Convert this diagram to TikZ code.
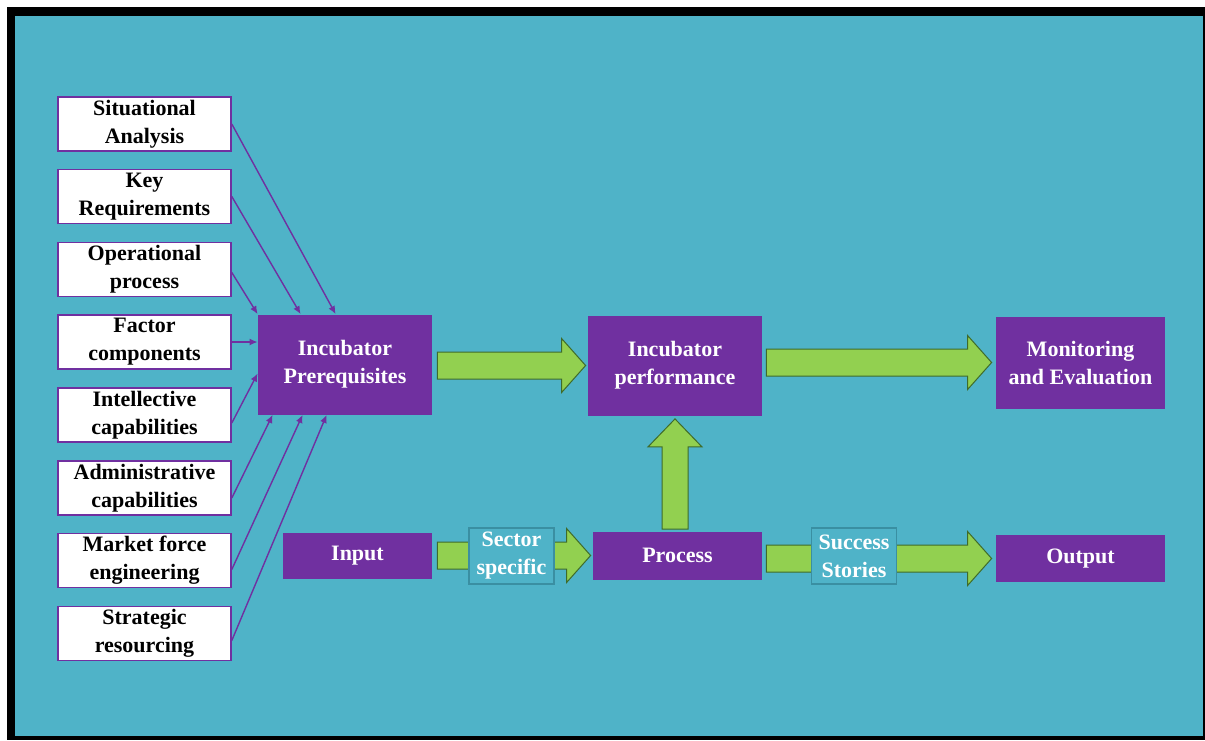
\documentclass[tikz,border=0pt]{standalone}
\usepackage{fontspec}
\setmainfont{Liberation Serif}
\usetikzlibrary{arrows.meta,calc}
\definecolor{sea}{HTML}{4FB3C8}
\definecolor{seaedge}{HTML}{3A8FA2}
\definecolor{plum}{HTML}{7030A0}
\definecolor{leaf}{HTML}{92D050}
\definecolor{leafedge}{HTML}{3F6B2A}
\tikzset{%
  txt/.style={inner sep=0pt,align=center,font=\bfseries\fontsize{11}{14}\selectfont},
  factor/.style={txt,draw=plum,line width=0.8pt,fill=white,minimum width=86.5pt,minimum height=27pt},
  stage/.style={txt,fill=plum,text=white},
  tag/.style={txt,draw=seaedge,line width=0.6pt,fill=sea,text=white,minimum width=42.5pt,minimum height=28pt},
  feed/.style={plum,line width=0.7pt,-{Latex[length=4pt,width=3.5pt]}},
  fat/.style={fill=leaf,draw=leafedge,line width=0.5pt,line join=miter},
}
% fat green arrows, from #1 to #2
\newcommand\fatright[2]{\filldraw[fat] let \p1=(#1), \p2=(#2) in (\x1,\y2+6.75pt) -- (\x2-12pt,\y2+6.75pt) -- (\x2-12pt,\y2+13.5pt) -- (\x2,\y2) -- (\x2-12pt,\y2-13.5pt) -- (\x2-12pt,\y2-6.75pt) -- (\x1,\y2-6.75pt) -- cycle;}
\newcommand\fatup[2]{\filldraw[fat] let \p1=(#1), \p2=(#2) in (\x2-6.5pt,\y1) -- (\x2-6.5pt,\y2-14pt) -- (\x2-13.5pt,\y2-14pt) -- (\x2,\y2) -- (\x2+13.5pt,\y2-14pt) -- (\x2+6.5pt,\y2-14pt) -- (\x2+6.5pt,\y1) -- cycle;}
\begin{document}
\begin{tikzpicture}[x=0.5pt,y=-0.5pt]%
\useasboundingbox (0,0) rectangle (1205,740);
% frame
\fill[black] (7,7) rectangle (1205,740);
\fill[sea] (15,16) rectangle (1203,736);
% factors on the left
\node[factor] (sit) at (144.5,124) {Situational\\Analysis};
\node[factor] (key) at (144.5,196.5) {Key\\Requirements};
\node[factor] (ope) at (144.5,269.5) {Operational\\process};
\node[factor] (fac) at (144.5,342) {Factor\\components};
\node[factor] (int) at (144.5,415) {Intellective\\capabilities};
\node[factor] (adm) at (144.5,488) {Administrative\\capabilities};
\node[factor] (mar) at (144.5,560.5) {Market force\\engineering};
\node[factor] (str) at (144.5,633.5) {Strategic\\resourcing};
% stages
\node[stage,minimum width=87pt,minimum height=50pt] (pre) at (345,364.5) {Incubator\\Prerequisites};
\node[stage,minimum width=87pt,minimum height=50pt] (perf) at (675,365.5) {Incubator\\performance};
\node[stage,minimum width=84.5pt,minimum height=46pt] (mon) at (1080.5,362.5) {Monitoring\\and Evaluation};
\node[stage,minimum width=74.5pt,minimum height=23pt] (inp) at (357.5,555.5) {Input};
\node[stage,minimum width=84.5pt,minimum height=24pt] (proc) at (677.5,555.5) {Process};
\node[stage,minimum width=84.5pt,minimum height=23.5pt] (out) at (1080.5,558.5) {Output};
% thin feeds into the prerequisites
\draw[feed] (sit.east) -- ([xshift=39pt]pre.north west);
\draw[feed] (key.east) -- ([xshift=21.5pt]pre.north west);
\draw[feed] ([yshift=-1.5pt]ope.east) -- (pre.north west);
\draw[feed] (fac.east) -- (fac.east -| pre.west);
\draw[feed] ([yshift=-4pt]int.east) -- ([yshift=-4.5pt]pre.west);
\draw[feed] ([yshift=-5pt]adm.east) -- ([xshift=7.5pt]pre.south west);
\draw[feed] ([yshift=-4.5pt]mar.east) -- ([xshift=22.5pt]pre.south west);
\draw[feed] ([yshift=-3.5pt]str.east) -- ([xshift=34.5pt]pre.south west);
% green arrows
\fatright{[xshift=2.5pt]pre.east}{[xshift=-1pt]perf.west}
\fatright{[xshift=2pt]perf.east}{[xshift=-2pt]mon.west}
\fatright{[xshift=2.5pt]inp.east}{[xshift=-1pt]proc.west}
\fatright{[xshift=2pt]proc.east}{[xshift=-2pt]out.west}
\fatup{[yshift=1pt]proc.north}{[yshift=-1.5pt]perf.south}
% tags on the arrows
\node[tag] (sec) at (511.5,556) {Sector\\specific};
\node[tag] (suc) at (854,556) {Success\\Stories};
\end{tikzpicture}
\end{document}
